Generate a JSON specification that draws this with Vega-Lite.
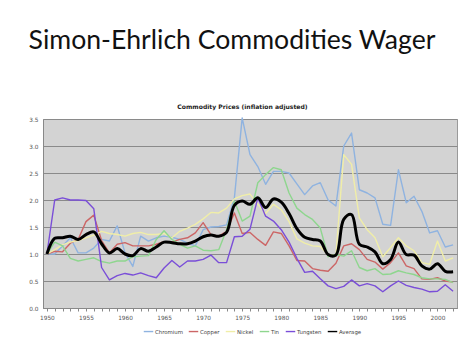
{
  "$schema": "https://vega.github.io/schema/vega-lite/v6.json",
  "autosize": "none",
  "width": 414,
  "height": 189,
  "padding": {"left": 43, "top": 119, "right": 17, "bottom": 47},
  "background": "white",
  "config": {
    "view": {"fill": "#d3d3d3", "stroke": "#9a9a9a", "strokeWidth": 1},
    "font": "DejaVu Sans"
  },
  "title": {
    "text": "Simon-Ehrlich Commodities Wager",
    "font": "Lato",
    "fontSize": 26.6,
    "fontWeight": "normal",
    "color": "#111111",
    "anchor": "middle",
    "dx": -18,
    "offset": 48
  },
  "datasets": {
    "wide": [
      {"year":1950,"Chromium":1.00,"Copper":1.00,"Nickel":1.00,"Tin":1.00,"Tungsten":1.00,"Average":1.00},
      {"year":1951,"Chromium":1.00,"Copper":1.05,"Nickel":1.08,"Tin":1.22,"Tungsten":2.00,"Average":1.29},
      {"year":1952,"Chromium":1.15,"Copper":1.04,"Nickel":1.17,"Tin":1.15,"Tungsten":2.04,"Average":1.30},
      {"year":1953,"Chromium":1.30,"Copper":1.20,"Nickel":1.22,"Tin":0.92,"Tungsten":2.00,"Average":1.33},
      {"year":1954,"Chromium":1.02,"Copper":1.27,"Nickel":1.25,"Tin":0.87,"Tungsten":2.00,"Average":1.27},
      {"year":1955,"Chromium":1.02,"Copper":1.60,"Nickel":1.30,"Tin":0.90,"Tungsten":1.99,"Average":1.36},
      {"year":1956,"Chromium":1.11,"Copper":1.72,"Nickel":1.35,"Tin":0.93,"Tungsten":1.84,"Average":1.41},
      {"year":1957,"Chromium":1.27,"Copper":1.25,"Nickel":1.42,"Tin":0.86,"Tungsten":0.75,"Average":1.19},
      {"year":1958,"Chromium":1.24,"Copper":1.02,"Nickel":1.38,"Tin":0.83,"Tungsten":0.52,"Average":1.02},
      {"year":1959,"Chromium":1.52,"Copper":1.18,"Nickel":1.36,"Tin":0.87,"Tungsten":0.60,"Average":1.10},
      {"year":1960,"Chromium":1.02,"Copper":1.21,"Nickel":1.33,"Tin":0.87,"Tungsten":0.64,"Average":1.00},
      {"year":1961,"Chromium":0.77,"Copper":1.15,"Nickel":1.38,"Tin":0.95,"Tungsten":0.61,"Average":0.97},
      {"year":1962,"Chromium":1.33,"Copper":1.15,"Nickel":1.40,"Tin":0.96,"Tungsten":0.65,"Average":1.10},
      {"year":1963,"Chromium":1.24,"Copper":1.15,"Nickel":1.36,"Tin":0.97,"Tungsten":0.60,"Average":1.05},
      {"year":1964,"Chromium":1.30,"Copper":1.18,"Nickel":1.36,"Tin":1.27,"Tungsten":0.56,"Average":1.13},
      {"year":1965,"Chromium":1.33,"Copper":1.23,"Nickel":1.38,"Tin":1.43,"Tungsten":0.74,"Average":1.22},
      {"year":1966,"Chromium":1.31,"Copper":1.22,"Nickel":1.30,"Tin":1.27,"Tungsten":0.88,"Average":1.21},
      {"year":1967,"Chromium":1.27,"Copper":1.27,"Nickel":1.42,"Tin":1.18,"Tungsten":0.76,"Average":1.19},
      {"year":1968,"Chromium":1.20,"Copper":1.30,"Nickel":1.48,"Tin":1.11,"Tungsten":0.87,"Average":1.19},
      {"year":1969,"Chromium":1.15,"Copper":1.39,"Nickel":1.55,"Tin":1.15,"Tungsten":0.87,"Average":1.24},
      {"year":1970,"Chromium":1.45,"Copper":1.58,"Nickel":1.65,"Tin":1.07,"Tungsten":0.90,"Average":1.32},
      {"year":1971,"Chromium":1.50,"Copper":1.36,"Nickel":1.77,"Tin":1.06,"Tungsten":0.98,"Average":1.35},
      {"year":1972,"Chromium":1.51,"Copper":1.33,"Nickel":1.76,"Tin":1.08,"Tungsten":0.84,"Average":1.33},
      {"year":1973,"Chromium":1.54,"Copper":1.42,"Nickel":1.85,"Tin":1.45,"Tungsten":0.84,"Average":1.40},
      {"year":1974,"Chromium":2.04,"Copper":1.76,"Nickel":2.02,"Tin":1.98,"Tungsten":1.32,"Average":1.90},
      {"year":1975,"Chromium":3.52,"Copper":1.38,"Nickel":2.08,"Tin":1.61,"Tungsten":1.33,"Average":1.98},
      {"year":1976,"Chromium":2.84,"Copper":1.40,"Nickel":2.11,"Tin":1.70,"Tungsten":1.46,"Average":1.92},
      {"year":1977,"Chromium":2.62,"Copper":1.27,"Nickel":1.92,"Tin":2.32,"Tungsten":2.04,"Average":2.04},
      {"year":1978,"Chromium":2.29,"Copper":1.16,"Nickel":1.75,"Tin":2.47,"Tungsten":1.70,"Average":1.86},
      {"year":1979,"Chromium":2.53,"Copper":1.41,"Nickel":1.92,"Tin":2.60,"Tungsten":1.61,"Average":2.02},
      {"year":1980,"Chromium":2.53,"Copper":1.38,"Nickel":1.82,"Tin":2.56,"Tungsten":1.45,"Average":1.96},
      {"year":1981,"Chromium":2.50,"Copper":1.15,"Nickel":1.60,"Tin":2.13,"Tungsten":1.22,"Average":1.75},
      {"year":1982,"Chromium":2.30,"Copper":0.88,"Nickel":1.28,"Tin":1.85,"Tungsten":0.92,"Average":1.47},
      {"year":1983,"Chromium":2.10,"Copper":0.87,"Nickel":1.20,"Tin":1.73,"Tungsten":0.66,"Average":1.31},
      {"year":1984,"Chromium":2.26,"Copper":0.73,"Nickel":1.15,"Tin":1.64,"Tungsten":0.68,"Average":1.27},
      {"year":1985,"Chromium":2.32,"Copper":0.70,"Nickel":1.14,"Tin":1.48,"Tungsten":0.54,"Average":1.24},
      {"year":1986,"Chromium":2.00,"Copper":0.68,"Nickel":0.98,"Tin":0.95,"Tungsten":0.41,"Average":0.99},
      {"year":1987,"Chromium":1.89,"Copper":0.83,"Nickel":0.99,"Tin":0.99,"Tungsten":0.36,"Average":0.98},
      {"year":1988,"Chromium":3.00,"Copper":1.15,"Nickel":2.84,"Tin":0.96,"Tungsten":0.40,"Average":1.64},
      {"year":1989,"Chromium":3.24,"Copper":1.19,"Nickel":2.66,"Tin":1.06,"Tungsten":0.52,"Average":1.73},
      {"year":1990,"Chromium":2.19,"Copper":1.08,"Nickel":1.67,"Tin":0.75,"Tungsten":0.41,"Average":1.18},
      {"year":1991,"Chromium":2.13,"Copper":0.90,"Nickel":1.45,"Tin":0.69,"Tungsten":0.45,"Average":1.13},
      {"year":1992,"Chromium":2.04,"Copper":0.85,"Nickel":1.30,"Tin":0.73,"Tungsten":0.41,"Average":1.04},
      {"year":1993,"Chromium":1.55,"Copper":0.72,"Nickel":0.95,"Tin":0.62,"Tungsten":0.30,"Average":0.82},
      {"year":1994,"Chromium":1.53,"Copper":0.84,"Nickel":1.12,"Tin":0.63,"Tungsten":0.41,"Average":0.90},
      {"year":1995,"Chromium":2.56,"Copper":1.02,"Nickel":1.30,"Tin":0.69,"Tungsten":0.50,"Average":1.22},
      {"year":1996,"Chromium":1.95,"Copper":0.78,"Nickel":1.15,"Tin":0.65,"Tungsten":0.42,"Average":0.99},
      {"year":1997,"Chromium":2.07,"Copper":0.73,"Nickel":1.06,"Tin":0.62,"Tungsten":0.38,"Average":0.98},
      {"year":1998,"Chromium":1.79,"Copper":0.54,"Nickel":0.84,"Tin":0.56,"Tungsten":0.35,"Average":0.78},
      {"year":1999,"Chromium":1.39,"Copper":0.53,"Nickel":0.81,"Tin":0.54,"Tungsten":0.30,"Average":0.72},
      {"year":2000,"Chromium":1.43,"Copper":0.56,"Nickel":1.24,"Tin":0.54,"Tungsten":0.31,"Average":0.82},
      {"year":2001,"Chromium":1.13,"Copper":0.50,"Nickel":0.87,"Tin":0.53,"Tungsten":0.43,"Average":0.68},
      {"year":2002,"Chromium":1.17,"Copper":0.48,"Nickel":0.93,"Tin":0.47,"Tungsten":0.31,"Average":0.67}
    ]
  },
  "data": {"name": "wide"},
  "transform": [
    {"fold": ["Chromium", "Copper", "Nickel", "Tin", "Tungsten", "Average"], "as": ["series", "value"]}
  ],
  "resolve": {"axis": {"x": "independent"}},
  "layer": [
    {
      "transform": [{"filter": "datum.series !== 'Average'"}],
      "mark": {"type": "line", "strokeJoin": "round"},
      "encoding": {
        "x": {
          "field": "year", "type": "quantitative",
          "scale": {"domain": [1949.5, 2002.5], "nice": false, "zero": false},
          "axis": {
            "title": null, "format": "d", "grid": false,
            "values": [1950,1951,1952,1953,1954,1955,1956,1957,1958,1959,1960,1961,1962,1963,1964,1965,1966,1967,1968,1969,1970,1971,1972,1973,1974,1975,1976,1977,1978,1979,1980,1981,1982,1983,1984,1985,1986,1987,1988,1989,1990,1991,1992,1993,1994,1995,1996,1997,1998,1999,2000,2001,2002],
            "labelExpr": "datum.value % 5 === 0 ? datum.label : ''",
            "labelFontSize": 5.8, "labelColor": "#555555", "labelPadding": 3,
            "tickSize": 3, "tickColor": "#888888", "domainColor": "#888888",
            "labelFlush": false, "labelOverlap": false
          }
        },
        "y": {
          "field": "value", "type": "quantitative",
          "scale": {"domain": [0, 3.5], "nice": false},
          "axis": {
            "title": null, "values": [0, 0.5, 1, 1.5, 2, 2.5, 3, 3.5], "format": ".1f",
            "labelFontSize": 5.8, "labelColor": "#555555", "labelPadding": 5,
            "labelOverlap": false, "labelFlush": false,
            "ticks": false, "domainColor": "#888888",
            "gridColor": "#8a8a8a", "gridWidth": 1
          }
        },
        "color": {
          "field": "series", "type": "nominal",
          "scale": {
            "domain": ["Chromium", "Copper", "Nickel", "Tin", "Tungsten", "Average"],
            "range": ["#8fb3e0", "#cc6666", "#f0eea8", "#8ed68e", "#7a4ed8", "#000000"]
          },
          "legend": {
            "title": null, "orient": "none", "direction": "horizontal",
            "legendX": 100, "legendY": 207,
            "symbolType": "stroke", "symbolSize": 90,
            "labelFontSize": 5.4, "labelColor": "#444444",
            "columnPadding": 2, "labelOffset": 1
          }
        },
        "strokeWidth": {
          "field": "series", "type": "nominal",
          "scale": {
            "domain": ["Chromium", "Copper", "Nickel", "Tin", "Tungsten", "Average"],
            "range": [1.4, 1.4, 1.4, 1.4, 1.4, 3]
          },
          "legend": {
            "title": null, "orient": "none", "direction": "horizontal",
            "legendX": 100, "legendY": 207,
            "symbolType": "stroke", "symbolSize": 90,
            "labelFontSize": 5.4, "labelColor": "#444444",
            "columnPadding": 2, "labelOffset": 1
          }
        }
      }
    },
    {
      "transform": [{"filter": "datum.series === 'Average'"}],
      "mark": {"type": "line", "interpolate": "catmull-rom", "color": "#000000", "strokeWidth": 3},
      "encoding": {
        "x": {
          "field": "year", "type": "quantitative",
          "axis": {
            "orient": "top", "title": "Commodity Prices (inflation adjusted)",
            "labels": false, "ticks": false, "domain": false, "grid": false,
            "titleFontSize": 6.1, "titleFontWeight": "bold", "titleColor": "#222222",
            "titleFont": "DejaVu Sans", "titlePadding": 10, "titleX": 199
          }
        },
        "y": {
          "field": "value", "type": "quantitative",
          "axis": {
            "title": null, "values": [0, 0.5, 1, 1.5, 2, 2.5, 3, 3.5], "format": ".1f",
            "labelFontSize": 5.8, "labelColor": "#555555", "labelPadding": 5,
            "labelOverlap": false, "labelFlush": false,
            "ticks": false, "domainColor": "#888888",
            "gridColor": "#8a8a8a", "gridWidth": 1
          }
        }
      }
    }
  ]
}
